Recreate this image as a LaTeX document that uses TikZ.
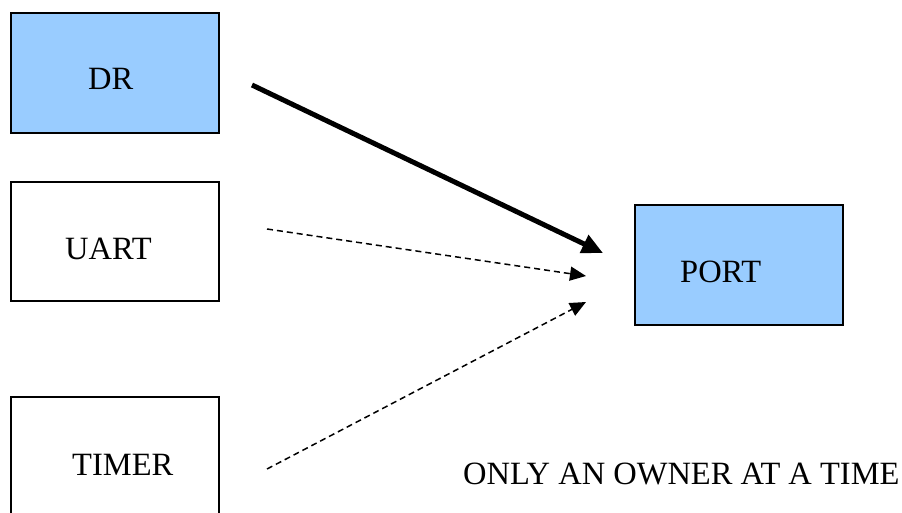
\documentclass[tikz,border=0pt]{standalone}
\usepackage{fontspec}
\setmainfont{Liberation Serif}
\usetikzlibrary{arrows.meta}
\definecolor{boxblue}{HTML}{99CCFF}
\begin{document}
\begin{tikzpicture}[x=1pt,y=-1pt,
  box/.style={draw=black,line width=2pt,minimum width=208pt,inner sep=0pt,outer sep=0pt},
  lbl/.style={anchor=base west,inner sep=0pt,font=\fontsize{32.5}{38}\selectfont},
  solidarrow/.style={line width=5pt,-{Triangle[length=21pt,width=19pt]}},
  dasharrow/.style={line width=1.5pt,dash pattern=on 6pt off 4pt,-{Triangle[length=16pt,width=14pt]}}]
\useasboundingbox (0,0) rectangle (902,513);
\clip (0,0) rectangle (902,513);
\node[box,fill=boxblue,minimum height=120pt] (dr) at (115,73) {};
\node[box,fill=white,minimum height=119pt] (uart) at (115,241.5) {};
\node[box,fill=white,minimum height=120pt] (timer) at (115,457) {};
\node[box,fill=boxblue,minimum height=120pt] (port) at (739,265) {};
\node[lbl] (drl) at (88,90) {DR};
\node[lbl] (uartl) at (65,259) {UART};
\node[lbl] (timerl) at (72,475) {TIMER};
\node[lbl] (portl) at (680,282) {PORT};
\node[lbl] (note) at (463,484) {ONLY AN OWNER AT A TIME};
\coordinate (drout) at (252,85);
\coordinate (uartout) at (267,229);
\coordinate (timerout) at (267,469);
\coordinate (pin1) at (603,253);
\coordinate (pin2) at (586,276);
\coordinate (pin3) at (586,302);
\draw[solidarrow] (drout) -- (pin1);
\draw[dasharrow] (uartout) -- (pin2);
\draw[dasharrow] (timerout) -- (pin3);
\end{tikzpicture}
\end{document}
